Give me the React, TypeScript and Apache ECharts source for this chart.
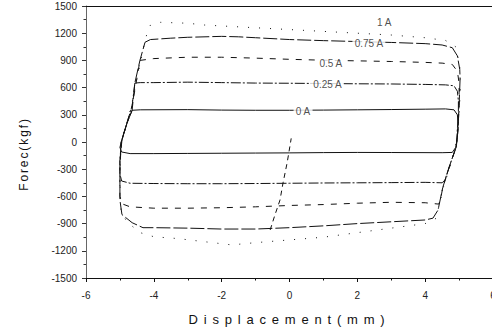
import { useEffect, useRef } from "react";
import * as echarts from "echarts";

type Pt = [number, number];

// Hysteresis loops (displacement mm, force kgf)
const loop0A: Pt[] = [
  [-4.64, 350], [-4.4, 355], [-3, 357], [-2, 352], [-1, 350], [0, 350], [1, 352], [2, 355], [3, 358], [4, 362], [4.6, 365], [4.85, 355], [4.95, 300],
  [4.97, 200], [4.95, 50], [4.9, -60], [4.8, -115],
  [4.5, -118], [3, -116], [2, -115], [1, -117], [0, -120], [-1, -122], [-2, -124], [-3, -126], [-4, -128], [-4.7, -128], [-4.95, -110],
  [-5.0, -60], [-4.96, 0], [-4.9, 80], [-4.79, 210], [-4.64, 350],
];

const loop025A: Pt[] = [
  [-4.56, 650], [-4.4, 655], [-4, 655], [-3, 660], [-2, 655], [-1, 650], [0, 648], [1, 645], [2, 642], [3, 640], [4, 635], [4.6, 630], [4.85, 620], [4.95, 560], [4.98, 450],
  [4.98, 300], [4.95, 150], [4.92, -50], [4.75, -230], [4.58, -420], [4.5, -450],
  [4, -445], [3, -448], [2, -450], [1, -452], [0, -455], [-1, -458], [-2, -460], [-3, -460], [-4, -458], [-4.7, -455], [-4.95, -430],
  [-5.0, -350], [-5.0, -200], [-4.96, 0], [-4.8, 200], [-4.64, 400], [-4.56, 650],
];

const loop05A: Pt[] = [
  [-4.41, 900], [-4, 920], [-3, 935], [-2, 935], [-1, 925], [0, 912], [1, 902], [2, 895], [3, 888], [4, 878], [4.5, 870], [4.8, 855], [4.95, 780],
  [5.0, 650], [5.0, 400], [4.97, 150], [4.92, -50], [4.75, -230], [4.52, -500], [4.45, -640], [4.4, -685],
  [4, -670], [3, -665], [2, -675], [1, -690], [0, -700], [-1, -715], [-2, -725], [-3, -730], [-4, -730], [-4.7, -715], [-4.95, -680],
  [-5.0, -600], [-5.0, -300], [-4.96, 0], [-4.8, 200], [-4.64, 400], [-4.5, 700], [-4.41, 900],
];

const loop075A: Pt[] = [
  [-4.26, 1100], [-4.1, 1130], [-3.5, 1145], [-3, 1155], [-2, 1165], [-1.5, 1160], [-1, 1150], [0, 1130], [1, 1118], [2, 1108], [3, 1098], [4, 1085], [4.5, 1070], [4.8, 1040], [4.95, 950], [5.02, 800],
  [5.03, 700], [5.0, 400], [4.97, 150], [4.92, -50], [4.75, -230], [4.52, -500], [4.38, -750], [4.23, -840],
  [4, -860], [3, -880], [2, -900], [1, -925], [0, -945], [-1, -960], [-2, -960], [-3, -950], [-4, -945], [-4.32, -945], [-4.64, -890], [-4.94, -800],
  [-5.0, -640], [-5.0, -200], [-4.94, 20], [-4.79, 210], [-4.64, 350], [-4.56, 650], [-4.41, 900], [-4.26, 1100],
];

const loop1A: Pt[] = [
  [-4.3, 1050], [-4.2, 1200], [-4.1, 1290], [-3.8, 1320], [-3, 1310], [-2.5, 1290], [-2, 1280], [-1, 1260], [0, 1240], [1, 1220], [2, 1200], [3, 1180], [4, 1150], [4.6, 1120], [4.9, 1050], [5.02, 850],
  [5.04, 600], [5.0, 300], [4.95, 50], [4.8, -200], [4.55, -480], [4.4, -720], [4.3, -850],
  [4, -900], [3, -950], [2, -1000], [1, -1050], [0, -1080], [-1, -1110], [-1.7, -1135], [-2.5, -1100], [-3.3, -1065], [-4, -1045], [-4.4, -1000], [-4.8, -880], [-4.97, -750],
  [-5.0, -400], [-4.97, 0], [-4.8, 200], [-4.66, 400], [-4.5, 700], [-4.38, 900], [-4.3, 1050],
];

const transient1A: Pt[] = [
  [-0.57, -970], [-0.43, -805], [-0.28, -640], [-0.19, -450], [-0.07, -230], [0.02, -30], [0.05, 40],
];

const currentNames = ["0 A", "0.25 A", "0.5 A", "0.75 A", "1 A"];
const labelXs = [0.4, 1.12, 1.22, 2.34, 2.79];
const labelYs = [331, 629, 871, 1081, 1313];

const xMin = -6;
const xMax = 6;
const xStep = 2;
const yMin = -1500;
const yMax = 1500;
const yStep = 300;

const FONT = "'Liberation Sans', Arial, Helvetica, sans-serif";
const INK = "#111";

export default function App() {
  const ref = useRef<HTMLDivElement>(null);

  useEffect(() => {
    if (!ref.current) return;
    const chart = echarts.init(ref.current, undefined, { renderer: "svg" });

    const loops = [loop0A, loop025A, loop05A, loop075A, loop1A];
    const dashTypes: any[] = ["solid", [10, 2, 2, 2], [6, 7], [14, 3], [1, 10]];

    const lineSeries: any[] = loops.map((d, i) => ({
      type: "line",
      name: currentNames[i],
      data: d,
      showSymbol: false,
      symbol: "none",
      silent: true,
      lineStyle: { color: INK, width: 1, type: dashTypes[i] },
      z: 2,
    }));

    lineSeries.push({
      type: "line",
      name: "1 A transient",
      data: transient1A,
      showSymbol: false,
      symbol: "none",
      silent: true,
      lineStyle: { color: INK, width: 1, type: [5, 4] },
      z: 2,
    });

    lineSeries.push({
      type: "scatter",
      name: "labels",
      symbolSize: 0,
      silent: true,
      z: 5,
      data: currentNames.map((n, i) => ({ name: n, value: [labelXs[i], labelYs[i]] })),
      label: {
        show: true,
        position: "inside",
        formatter: (p: any) => p.name,
        color: "#222",
        fontSize: 10,
        fontFamily: FONT,
        backgroundColor: "#fff",
        padding: [1, 2],
      },
    });

    chart.setOption({
      animation: false,
      backgroundColor: "#fff",
      grid: { left: 86, right: -1, top: 6, bottom: 54, containLabel: false, outerBoundsMode: "none" },
      xAxis: [
        {
          type: "value",
          min: xMin,
          max: xMax,
          interval: xStep,
          position: "bottom",
          name: "Displacement(mm)",
          nameLocation: "middle",
          nameGap: 35,
          nameTextStyle: { fontSize: 13, color: "#111", fontFamily: FONT },
          axisLine: { show: true, onZero: false, lineStyle: { color: INK, width: 1 } },
          axisTick: { show: true, inside: false, length: 4, lineStyle: { color: INK } },
          minorTick: { show: true, splitNumber: 2, length: 2.5, lineStyle: { color: INK } },
          axisLabel: { fontSize: 10, color: "#222", margin: 12, fontFamily: FONT, formatter: (v: number) => String(v) },
          splitLine: { show: false },
        },
        {
          type: "value",
          min: xMin,
          max: xMax,
          interval: xStep,
          position: "top",
          axisLine: { show: true, onZero: false, lineStyle: { color: INK, width: 1 } },
          axisTick: { show: false },
          axisLabel: { show: false },
          splitLine: { show: false },
        },
      ],
      yAxis: {
        type: "value",
        min: yMin,
        max: yMax,
        interval: yStep,
        position: "left",
        name: "Forec(kgf)",
        nameLocation: "middle",
        nameGap: 56,
        nameRotate: 90,
        nameTextStyle: { fontSize: 12, color: "#111", fontFamily: FONT, padding: [0, 24, 0, 0] },
        axisLine: { show: true, onZero: false, lineStyle: { color: "#666", width: 1 } },
        axisTick: { show: true, inside: false, length: 4, lineStyle: { color: "#333" } },
        minorTick: { show: true, splitNumber: 2, length: 2.5, lineStyle: { color: "#333" } },
        axisLabel: { fontSize: 10, color: "#222", margin: 9, fontFamily: FONT, formatter: (v: number) => String(v) },
        splitLine: { show: false },
      },
      series: lineSeries,
    });

    const texts = ref.current.querySelectorAll("text");
    texts.forEach((t) => {
      const s = t.textContent || "";
      if (s === "Displacement(mm)") (t as SVGTextElement).style.letterSpacing = "5.8px";
      if (s === "Forec(kgf)") (t as SVGTextElement).style.letterSpacing = "1.9px";
    });

    return () => chart.dispose();
  }, []);

  return (
    <div
      ref={ref}
      style={{ position: "absolute", left: 0, top: 0, width: 492, height: 332, background: "#fff" }}
    />
  );
}
